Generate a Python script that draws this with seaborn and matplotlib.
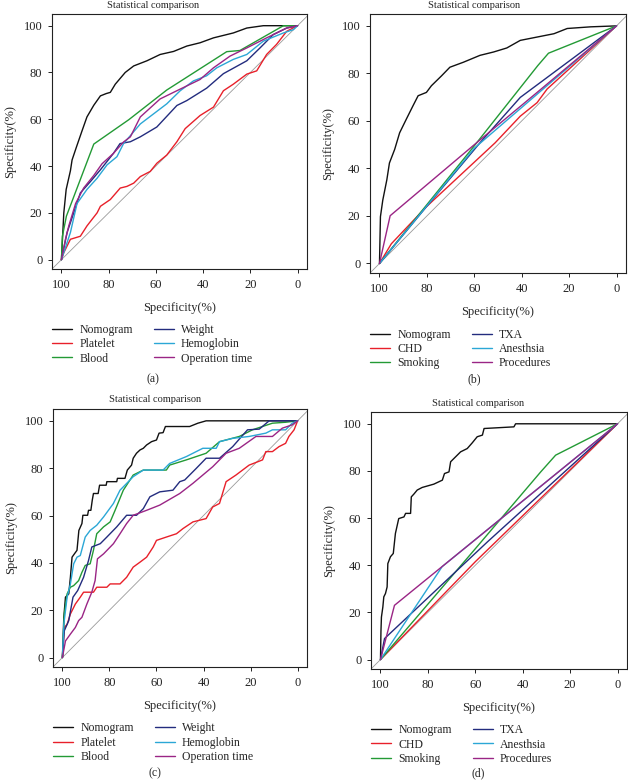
import numpy as np
import pandas as pd
import matplotlib
matplotlib.use("Agg")
import matplotlib.pyplot as plt
import seaborn as sns

# ---- data (specificity, sensitivity) ----
labels_ac = ["Nomogram", "Platelet", "Blood", "Weight", "Hemoglobin", "Operation time"]
labels_bd = ["Nomogram", "CHD", "Smoking", "TXA", "Anesthsia", "Procedures"]

# panel (a)
a_nomogram = [(100, 0), (99, 20), (98, 30), (96.2, 38), (95.5, 42.6), (93.7, 48), (91.3, 55),
              (89.2, 61), (86.3, 66), (83.5, 70), (81, 71), (79.3, 71.5), (77.2, 75), (73, 80),
              (69.4, 82.8), (63.8, 85), (58.2, 87.7), (52.5, 89), (46.9, 91.3), (41.3, 92.7),
              (35.6, 94.8), (27.2, 96.9), (21.5, 99), (14.5, 100), (0, 100)]
a_platelet = [(100, 0), (99, 3), (96.2, 8.7), (92, 10), (89.2, 14.4), (84.9, 20), (83.5, 22.8),
              (79.3, 25.7), (75.1, 30.6), (72.3, 31.3), (69.4, 32.7), (66.6, 35.5), (62.4, 37.7),
              (59.6, 41.2), (55.4, 44.7), (51.1, 50.4), (47.6, 56), (41.3, 61.6), (35.6, 65.2),
              (31.4, 72.2), (27.2, 75), (21.5, 79.3), (17.3, 80.7), (13.1, 87.7), (8.9, 92),
              (4.6, 97.6), (0, 100)]
a_blood = [(100, 0), (99.6, 10), (97.9, 18.6), (86.3, 49.4), (71.5, 59.8), (55.4, 72.5),
           (30, 88.9), (24.4, 89.4), (6, 100), (0, 100)]
a_weight = [(100, 0), (97.6, 11.6), (94.8, 20), (92, 28.5), (87.7, 33.4), (83.5, 38.4),
            (78, 45.4), (75.2, 49.6), (70.8, 50.4), (66.6, 52.5), (59.6, 56.7), (51.1, 65.9),
            (46.9, 68), (38.5, 73.3), (31.4, 79.5), (21.5, 85), (15.9, 90.5), (10.3, 96.2),
            (4.6, 99), (0, 100)]
a_hemoglobin = [(100, 0), (96.2, 11.6), (93.4, 24), (89.2, 30), (84.9, 34.8), (80.7, 40.5),
                (76.5, 44), (73.7, 49.6), (66.6, 58), (61, 62.3), (55.4, 66.6), (49.7, 72.2),
                (44.1, 76.4), (38.5, 78.6), (34.2, 82), (27.2, 85.6), (21.5, 87.7), (14.5, 93.4),
                (6, 96.9), (1.8, 98.3), (0, 100)]
a_optime = [(100, 0), (98.3, 8.7), (96.9, 14.4), (94, 24), (90.6, 30.6), (86.3, 36), (82.8, 41),
            (78, 45.4), (73.7, 50.3), (70.8, 52.5), (66.6, 61), (58.2, 68.7), (49.7, 72.9),
            (41.3, 77), (35.6, 82), (28.6, 87), (21.5, 90.5), (13.1, 94.8), (4.6, 99), (0, 100)]

# panel (b)
b_nomogram = [(100, 0), (99.6, 19.7), (98.6, 26.7), (96.9, 35.2), (95.8, 42.3), (93.6, 48),
              (91.5, 55), (88.7, 60.7), (85.9, 66.3), (83.7, 70.6), (80.2, 72), (78.1, 74.8),
              (73.8, 79), (70.3, 82.6), (64.6, 84.7), (57.6, 87.6), (51.9, 89), (46.3, 90.7),
              (40.6, 93.9), (33.5, 95.3), (26.4, 96.7), (20.8, 98.9), (10.9, 99.6), (0, 100)]
b_chd = [(100, 0), (95, 8.3), (80.2, 23.9), (51.2, 50.8), (40.6, 62), (33.5, 67.7),
         (29.3, 73.4), (0, 100)]
b_smoking = [(100, 0), (60.1, 49.4), (33.2, 83.3), (28.7, 88.5), (0, 100)]
b_txa = [(100, 0), (80.2, 23.9), (57.6, 50.8), (40.6, 69.9), (32.1, 76.2), (0, 100)]
b_anesthsia = [(100, 0), (60, 48.5), (0, 100)]
b_procedures = [(100, 0), (95.5, 20.1), (59.4, 50.5), (33.5, 72), (0, 100)]

# panel (c)
c_nomogram = [(100, 0), (99.4, 17), (98.7, 25.5), (97.3, 26.9), (96.6, 33.9), (95.9, 42.4),
              (94.9, 43.8), (93.8, 45.3), (93, 53.7), (91.7, 56.6), (91.3, 60.1), (89.3, 60.1),
              (88.9, 62.2), (87.9, 62.2), (87.3, 66.5), (86.8, 69.3), (84.8, 69.3), (84.2, 72.8),
              (81.4, 72.8), (81.1, 74.3), (76.9, 74.3), (76.6, 75.7), (73.4, 75.7), (72.4, 79.2),
              (70.6, 81.3), (69.9, 84.2), (68.5, 86.3), (67, 87.7), (65.6, 88.4), (64.2, 89.8),
              (62.1, 91.2), (60, 91.9), (58.9, 94.8), (57.2, 95), (56.2, 97.6), (45.9, 97.6),
              (42.4, 99), (38.9, 100), (0, 100)]
c_platelet = [(100, 0), (99.2, 12.7), (98, 14), (96.6, 18.4), (94.5, 22.6), (92.4, 25.5),
              (91, 27.6), (86.8, 27.6), (85.4, 29.7), (81.1, 29.7), (79.7, 31.1), (75.5, 31.1),
              (72.7, 33.9), (69.9, 38.2), (67, 40.3), (64.2, 42.4), (61.4, 46.7), (60, 49.5),
              (55.8, 50.9), (51.5, 52.3), (48.7, 54.5), (44.5, 57.3), (38.9, 58.7), (36.1, 63.6),
              (33.2, 65.1), (30.4, 74.3), (26.2, 77.1), (20.6, 81.3), (14.9, 83.5), (13.5, 87),
              (10.7, 87), (7.9, 89.1), (5.1, 90.5), (3.7, 93.4), (1.5, 96.2), (0, 100)]
c_blood = [(100, 0), (99.2, 18.4), (98, 26.9), (96.6, 29.7), (95.2, 30.4), (93.1, 32.5),
           (91.7, 36), (90.3, 38.9), (88.2, 39.6), (86.8, 45.3), (85.4, 52.3), (82.5, 55.2),
           (79.7, 57.3), (77.6, 62.2), (74.1, 70.7), (69.9, 77.1), (65.6, 79.2), (55.8, 79.2),
           (54.4, 81.3), (47.3, 83.5), (38.9, 86.3), (33.2, 91.2), (24.8, 93.4), (19.2, 96.2),
           (10.7, 99), (5.1, 99.4), (0, 100)]
c_weight = [(100, 0), (99.2, 11.3), (97.3, 15.6), (95.5, 25.5), (93.5, 28.3), (91, 33.9),
            (88.9, 41), (87.5, 46.7), (83.9, 48.1), (81.1, 50.9), (76.9, 55.2), (72.7, 60.1),
            (68.5, 60.1), (65.6, 62.9), (62.8, 67.9), (58.6, 70), (53, 70.7), (50.1, 74.3),
            (48, 75), (43.1, 79.9), (38.9, 84.2), (33.2, 84.2), (27.6, 89.1), (21.3, 96.2),
            (16.3, 96.5), (12.1, 100), (0, 100)]
c_hemoglobin = [(100, 0), (99.4, 14), (98, 25.5), (96.6, 31.1), (95.2, 39.6), (93.8, 42.4),
                (92.4, 43.1), (90.3, 50.9), (88.2, 53.7), (85.4, 55.9), (82.5, 59.4),
                (78.3, 65.1), (75.5, 70.7), (69.9, 76.4), (65.6, 79.2), (57.2, 79.2), (54.4, 82),
                (47.3, 84.9), (40.3, 88.4), (34.6, 88.4), (33.2, 91.2), (27.6, 92.6),
                (20.6, 93.4), (13.5, 94.8), (10.7, 96.2), (5.1, 96.2), (2.3, 99), (0, 100)]
c_optime = [(100, 0), (98.7, 7), (96.6, 9.9), (94.5, 12.7), (93.1, 15.6), (91.7, 17),
            (89.6, 22.6), (87.5, 27.6), (86.1, 32.5), (85.1, 41.7), (82.5, 43.8), (78.3, 48.1),
            (75.5, 52.3), (72.7, 56.6), (69.9, 60.1), (64.2, 62.2), (58.6, 64.4), (50.1, 69.3),
            (44.5, 73.6), (36.1, 80.6), (30.4, 86.3), (24.8, 88.4), (17.7, 93.4), (10.7, 93.4),
            (6.5, 96.9), (2.3, 98.3), (0, 100)]

# panel (d)
d_nomogram = [(100, 0), (99.8, 12), (99.6, 18), (99, 22.3), (98.6, 26.6), (97.9, 28),
              (97.2, 30.8), (96.9, 40.7), (95.8, 43.6), (94.6, 45), (93.7, 53.5), (92.3, 59.8),
              (90.1, 60.5), (89.4, 62), (87.3, 62), (87, 69), (85.9, 70.2), (84.5, 71.9),
              (82.4, 73), (77.5, 74.4), (73.9, 76.1), (73, 78.9), (71.1, 79.6), (70.4, 83.9),
              (68.3, 86), (66.2, 88.1), (63.4, 89.5), (61.3, 91.9), (59.2, 94.5), (57, 95.2),
              (56.3, 98), (43.7, 98.7), (43, 100), (0, 100)]
d_chd = [(100, 0), (60, 41.5), (0, 100)]
d_smoking = [(100, 0), (60, 47), (32.4, 79.6), (26.1, 86.7), (0, 100)]
d_txa = [(100, 0), (98.3, 8.9), (54.9, 49.9), (0, 100)]
d_anesthsia = [(100, 0), (74, 39.4), (60.6, 50.4), (0, 100)]
d_procedures = [(100, 0), (94.1, 23), (60.6, 50.4), (0, 100)]

panels = [
    ("(a)", labels_ac, [a_nomogram, a_platelet, a_blood, a_weight, a_hemoglobin, a_optime]),
    ("(b)", labels_bd, [b_nomogram, b_chd, b_smoking, b_txa, b_anesthsia, b_procedures]),
    ("(c)", labels_ac, [c_nomogram, c_platelet, c_blood, c_weight, c_hemoglobin, c_optime]),
    ("(d)", labels_bd, [d_nomogram, d_chd, d_smoking, d_txa, d_anesthsia, d_procedures]),
]

colors = ["#111111", "#E8202A", "#239A35", "#232C7E", "#2BA7D6", "#9A2585"]

# axes boxes in pixels: left, top, right, bottom ; plus centre x for title / tag
boxes = [(52, 14, 307, 269, 153), (370, 14, 626, 273, 474),
         (53, 409, 307, 667, 155), (371, 412, 627, 669, 478)]
title_y = [5, 6, 400, 403]
tag_y = [379, 379, 773, 773]

W, H = 628, 781

sns.set_theme(style="ticks")
plt.rcParams["font.family"] = ["Liberation Serif", "DejaVu Serif"]

fig = plt.figure(figsize=(W / 100, H / 100), dpi=100)

for i, (tag, labels, curves) in enumerate(panels):
    l, t, r, b, cx = boxes[i]
    ax = fig.add_axes([l / W, 1 - b / H, (r - l) / W, (b - t) / H])

    rows = []
    for name, pts in zip(labels, curves):
        for k, (sp, se) in enumerate(pts):
            rows.append({"spec": sp, "sens": se, "marker": name, "order": k})
    df = pd.DataFrame(rows)

    ax.axline((100, 0), (0, 100), color="#9a9a9a", lw=0.6, zorder=1)
    sns.lineplot(data=df, x="spec", y="sens", hue="marker", hue_order=labels,
                 palette=colors, sort=False, estimator=None, lw=1.0, ax=ax, zorder=2)

    ax.set_xlim(104, -4)
    ax.set_ylim(-4, 105)
    ax.set_xticks([100, 80, 60, 40, 20, 0])
    ax.set_yticks([0, 20, 40, 60, 80, 100])
    ax.tick_params(labelsize=9, length=3, width=0.7, pad=4, colors="#222222")
    for s in ax.spines.values():
        s.set_linewidth(0.8)
        s.set_color("#222222")
    ax.set_xlabel("Specificity(%)", fontsize=9, labelpad=8)
    ax.set_ylabel("Specificity(%)", fontsize=9, labelpad=5)

    handles, labs = ax.get_legend_handles_labels()
    ax.legend(handles, labs, ncol=2, frameon=False, fontsize=8.5,
              loc="upper left", bbox_to_anchor=(0.0, -0.215), borderaxespad=0,
              borderpad=0, handlelength=1.7, handletextpad=0.6,
              columnspacing=1.8, labelspacing=0.2)

    fig.text(cx / W, 1 - title_y[i] / H, "Statistical comparison",
             ha="center", va="center", fontsize=7.5)
    fig.text(cx / W, 1 - tag_y[i] / H, tag, ha="center", va="center", fontsize=8.5)

fig.savefig("out.png", dpi=100)
